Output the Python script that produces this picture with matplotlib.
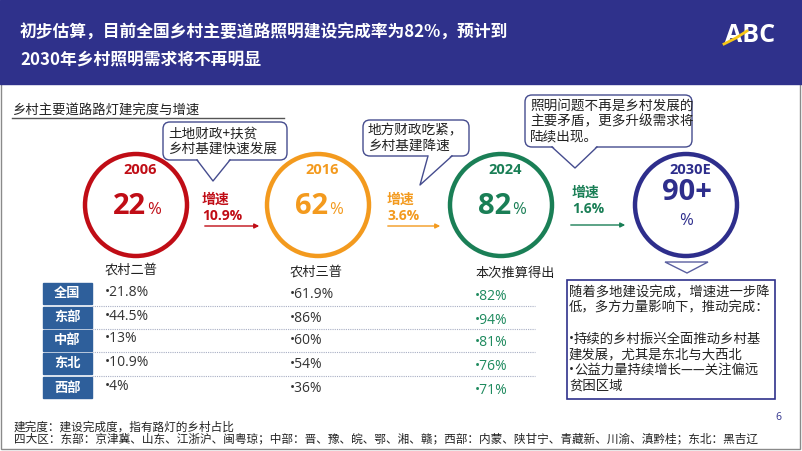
import matplotlib.pyplot as plt
from matplotlib.patches import Circle, Rectangle, FancyBboxPatch, Polygon

plt.rcParams['font.family'] = ['Noto Sans CJK SC', 'DejaVu Sans']
NUM_FONT = ['Open Sans', 'Noto Sans CJK SC', 'DejaVu Sans']

# ---- data ----
title_lines = ['初步估算，目前全国乡村主要道路照明建设完成率为82%，预计到',
               '2030年乡村照明需求将不再明显']
subtitle = '乡村主要道路路灯建完度与增速'
years = ['2006', '2016', '2024', '2030E']
rates = ['22', '62', '82', '90+']
growth = ['10.9%', '3.6%', '1.6%']
notes = ['土地财政+扶贫\n乡村基建快速发展',
         '地方财政吃紧，\n乡村基建降速',
         '照明问题不再是乡村发展的\n主要矛盾，更多升级需求将\n陆续出现。']

col_titles = ['农村二普', '农村三普', '本次推算得出']
regions = ['全国', '东部', '中部', '东北', '西部']
census2 = ['21.8%', '44.5%', '13%', '10.9%', '4%']
census3 = ['61.9%', '86%', '60%', '54%', '36%']
estimate = ['82%', '94%', '81%', '76%', '71%']

box_lines = ['随着多地建设完成，增速进一步降', '低，多方力量影响下，推动完成：', '',
             '•持续的乡村振兴全面推动乡村基', '建发展，尤其是东北与大西北',
             '•公益力量持续增长——关注偏远', '贫困区域']
footnotes = ['建完度：建设完成度，指有路灯的乡村占比',
             '四大区：东部：京津冀、山东、江浙沪、闽粤琼；中部：晋、豫、皖、鄂、湘、赣；'
             '西部：内蒙、陕甘宁、青藏新、川渝、滇黔桂；东北：黑吉辽']

# ---- styles / layout (pixel coordinates) ----
navy = '#2F318B'
ring_colors = ['#C00D16', '#F39A1E', '#1A7F56', '#2E2E8C']
bubble_edge = '#454C8E'
cx = [136, 318, 501, 686]
cy, r = 205, 51

fig = plt.figure(figsize=(8.02, 4.51), dpi=100)
ax = fig.add_axes([0, 0, 1, 1])
ax.set_xlim(0, 802)
ax.set_ylim(451, 0)
ax.axis('off')

# frame and header band
ax.add_patch(Rectangle((1, 1), 799, 448, fill=False, edgecolor='#8a8a8a', lw=1))
ax.add_patch(Rectangle((0, 0), 802, 84, color=navy, zorder=1))
for i, line in enumerate(title_lines):
    ax.text(20, 33 + 27 * i, line, color='white', fontsize=12.1, fontweight='bold',
            va='center', ha='left', zorder=2)
# logo
ax.text(750, 35, 'ABC', color='white', fontsize=18, fontweight='bold', family=NUM_FONT,
        ha='center', va='center', zorder=2)
ax.plot([724, 736, 747], [44, 38, 31], color='#F5C518', lw=2, zorder=3)

# subtitle
ax.text(12, 110, subtitle, fontsize=9.6, color='#222222', va='center', ha='left')
ax.plot([12, 284], [117.5, 117.5], color='#555555', lw=1)

# rings
for i in range(4):
    c = ring_colors[i]
    ax.add_patch(Circle((cx[i], cy), r, fill=False, edgecolor=c, lw=3.2, zorder=2))
    ax.text(cx[i] + 4, 170, years[i], color=c, fontsize=10.5, fontweight='bold',
            family=NUM_FONT, ha='center', va='center')
    if i < 3:
        ax.text(cx[i] + 10, 214, rates[i], color=c, fontsize=21, fontweight='bold',
                family=NUM_FONT, ha='right', va='baseline')
        ax.text(cx[i] + 11, 214, '%', color=c, fontsize=12, family=NUM_FONT,
                ha='left', va='baseline')
    else:
        ax.text(cx[i] + 1, 193, rates[i], color=c, fontsize=21, fontweight='bold',
                family=NUM_FONT, ha='center', va='center')
        ax.text(cx[i], 221, '%', color=c, fontsize=12, family=NUM_FONT,
                ha='center', va='center')

# growth labels + arrows
gx = [202, 387, 572]
gy = [200, 200, 193]
arrows = [(202, 262, 226), (385, 443, 226), (568, 628, 225)]
for i in range(3):
    c = ring_colors[i]
    ax.text(gx[i], gy[i], '增速', color=c, fontsize=10, fontweight='bold',
            family=NUM_FONT, ha='left', va='center')
    ax.text(gx[i], gy[i] + 16, growth[i], color=c, fontsize=10, fontweight='bold',
            family=NUM_FONT, ha='left', va='center')
    x0, x1, y = arrows[i]
    ax.annotate('', xy=(x1, y), xytext=(x0, y),
                arrowprops=dict(arrowstyle='-|>', color=c, lw=1, mutation_scale=7))

# speech bubbles
boxes = [(163, 122, 287, 160), (363, 120, 469, 156), (525, 95, 692, 147)]
tails = [((197, 160), (213, 181), (230, 160)),
         ((428, 156), (420, 185), (452, 156)),
         ((552, 147), (575, 168), (597, 147))]
for (x0, y0, x1, y1), (a, p, b), note in zip(boxes, tails, notes):
    ax.add_patch(FancyBboxPatch((x0, y0), x1 - x0, y1 - y0,
                                boxstyle='round,pad=0,rounding_size=7',
                                facecolor='white', edgecolor=bubble_edge, lw=1, zorder=3))
    ax.add_patch(Polygon([(a[0], a[1] - 1.5), p, (b[0], b[1] - 1.5)], closed=True,
                         facecolor='white', edgecolor='none', zorder=4))
    ax.plot([a[0], p[0], b[0]], [a[1], p[1], b[1]], color=bubble_edge, lw=1, zorder=5)
    ax.text(x0 + 5, (y0 + y1) / 2, note, fontsize=9.8, color='#222222', ha='left',
            va='center', linespacing=1.12, zorder=6)

# triangle + text box under 2030E
ax.add_patch(Polygon([(665, 262), (708, 262), (687, 273)], closed=True, fill=False,
                     edgecolor='#5A5FA0', lw=1))
ax.add_patch(Rectangle((567, 280), 208, 119, fill=False, edgecolor=navy, lw=1.2))
for i, line in enumerate(box_lines):
    y = 292 + 15.6 * i
    if line.startswith('•'):
        ax.text(569, y, '•', fontsize=9.6, color='#222222', family=NUM_FONT,
                ha='left', va='center')
        ax.text(574, y, line[1:], fontsize=9.6, color='#222222', ha='left', va='center')
    else:
        ax.text(569, y, line, fontsize=9.6, color='#222222', ha='left', va='center')

# table
col_x = [105, 290, 475]
col_y = [270, 272, 273]
for t, x, y in zip(col_titles, col_x, col_y):
    ax.text(x, y, t, fontsize=9.5, color='#222222', ha='left', va='center')
row_y = [293.5, 317, 340, 363, 387.5]
for y in [305.5, 329, 352, 376]:
    ax.plot([92, 535], [y, y], color='#a8aec4', lw=0.8, ls=(0, (1, 1)))
for i, reg in enumerate(regions):
    ax.add_patch(Rectangle((43, row_y[i] - 10.5), 49, 21, color='#2E5F9B'))
    ax.text(67.5, row_y[i], reg, color='white', fontsize=9.5, fontweight='bold',
            ha='center', va='center')
    ax.text(col_x[0], row_y[i] - 1, '•' + census2[i], fontsize=10, color='#333333',
            family=NUM_FONT, ha='left', va='center')
    ax.text(col_x[1], row_y[i] + 1, '•' + census3[i], fontsize=10, color='#333333',
            family=NUM_FONT, ha='left', va='center')
    ax.text(col_x[2], row_y[i] + 3, '•' + estimate[i], fontsize=10, color='#1E8A5E',
            family=NUM_FONT, ha='left', va='center')

# footnotes and page number
for i, line in enumerate(footnotes):
    ax.text(14, 427 + 11.5 * i, line, fontsize=8.4, color='#222222', ha='left', va='center')
ax.text(778, 418, '6', fontsize=7.5, color=navy, family=NUM_FONT, ha='center', va='center')

fig.savefig('out.png', dpi=100)
